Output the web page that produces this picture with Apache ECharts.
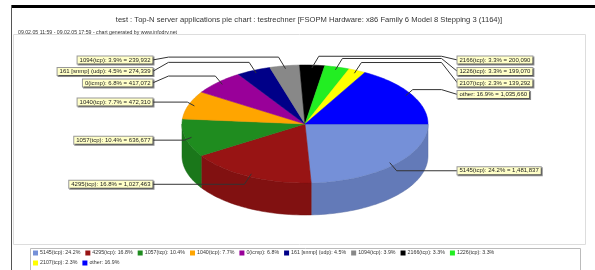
<!DOCTYPE html>
<html>
<head>
<meta charset="utf-8">
<script src="https://cdn.jsdelivr.net/npm/echarts@6/dist/echarts.min.js"></script>
<style>
  html, body { margin: 0; padding: 0; background: #fff; }
  #chart { width: 595px; height: 270px; }
</style>
</head>
<body>
<div id="chart"></div>
<script>
// traffic per server application
const names = ['5145(tcp)', '4295(tcp)', '1057(tcp)', '1040(tcp)', '0(icmp)', '161 [snmp] (udp)',
  '1094(tcp)', '2166(tcp)', '1226(tcp)', '2107(tcp)', 'other'];
const values = [1481837, 1027463, 636677, 472310, 417072, 274339, 239932, 200090, 199070, 139292, 1035660];
const colors = ['#7590d8', '#981414', '#1f8c1f', '#ffa500', '#990099', '#000088',
  '#888888', '#000000', '#22ee22', '#ffff00', '#0000ff'];

const titleText = 'test : Top-N server applications pie chart : testrechner [FSOPM Hardware: x86 Family 6 Model 8 Stepping 3 (1164)]';
const subText = '09.02.05 11:59 - 09.02.05 17:59 - chart generated by www.infodrv.net';

const total = values.reduce((a, b) => a + b, 0);
const pct = v => (v / total * 100).toFixed(1);
const fmt = v => v.toLocaleString('en-US');

// ellipse geometry of the 3d pie
const cx = 305, cy = 124, rx = 123, ry = 59, depth = 32;

const slices = [];
let acc = 0;
values.forEach((v, i) => {
  const a0 = acc / total * Math.PI * 2;
  acc += v;
  const a1 = acc / total * Math.PI * 2;
  const mid = (a0 + a1) / 2;
  slices.push({ i, a0, a1, mid, side: Math.cos(mid) >= 0 ? 1 : -1, natY: cy + ry * 1.15 * Math.sin(mid) });
});
[1, -1].forEach(side => {
  let prev = -Infinity;
  slices.filter(s => s.side === side).sort((a, b) => a.natY - b.natY).forEach(s => {
    s.labY = Math.max(s.natY, 60, prev + 11.5);
    prev = s.labY;
  });
});

function rim(a0, a1, dy) {
  const n = Math.max(2, Math.ceil((a1 - a0) / 0.03));
  const pts = [];
  for (let k = 0; k <= n; k++) {
    const a = a0 + (a1 - a0) * k / n;
    pts.push([cx + rx * Math.cos(a), cy + dy + ry * Math.sin(a)]);
  }
  return pts;
}

function darken(hex, f) {
  const c = echarts.color.parse(hex);
  return 'rgb(' + [0, 1, 2].map(j => Math.round(c[j] * f)).join(',') + ')';
}

function renderSlice(params, api) {
  const s = slices[params.dataIndex];
  const col = colors[s.i];
  const children = [];

  const b0 = Math.max(s.a0, 0), b1 = Math.min(s.a1, Math.PI);
  if (b1 > b0) {
    const pts = rim(b0, b1, 0).concat(rim(b0, b1, depth).reverse());
    children.push({ type: 'polygon', z2: 1, shape: { points: pts },
      style: { fill: darken(col, 0.85), stroke: darken(col, 0.75), lineWidth: 0.5 } });
  }
  children.push({ type: 'polygon', z2: 2, shape: { points: [[cx, cy]].concat(rim(s.a0, s.a1, 0)) },
    style: { fill: col, stroke: darken(col, 0.9), lineWidth: 0.5 } });

  // leader line + label box
  const ax = cx + rx * 0.95 * Math.cos(s.mid), ay = cy + ry * 0.95 * Math.sin(s.mid);
  const edge = s.side > 0 ? cx + rx * 1.24 : cx - rx * 1.24;
  const pts = [[ax, ay], [ax + s.side * 7, s.natY]];
  if (Math.abs(s.labY - s.natY) > 1) pts.push([edge - s.side * 16, s.natY]);
  pts.push([edge, s.labY]);
  children.push({ type: 'polyline', z2: 3, shape: { points: pts },
    style: { stroke: '#333', lineWidth: 1, fill: null } });
  children.push({ type: 'text', z2: 4, style: {
    text: names[s.i] + ': ' + pct(values[s.i]) + '% = ' + fmt(values[s.i]),
    x: edge, y: s.labY, align: s.side > 0 ? 'left' : 'right', verticalAlign: 'middle',
    font: '6px "Liberation Sans"', fill: '#222',
    backgroundColor: '#ffffc8', borderColor: '#999', borderWidth: 1, padding: [1, 2, 0, 2],
    shadowColor: 'rgba(0,0,0,0.45)', shadowOffsetX: 1, shadowOffsetY: 1, shadowBlur: 0
  } });
  return { type: 'group', children };
}

const chart = echarts.init(document.getElementById('chart'));
chart.setOption({
  animation: false,
  color: colors,
  title: [
    { text: titleText, left: 304, top: 11, textAlign: 'center',
      textStyle: { fontSize: 7.6, fontWeight: 'normal', color: '#333', fontFamily: 'Liberation Sans' } },
    { text: subText, left: 13, top: 25,
      textStyle: { fontSize: 5.2, fontWeight: 'normal', color: '#333', fontFamily: 'Liberation Sans' } }
  ],
  graphic: [
    { type: 'rect', shape: { x: 11, y: 5, width: 584, height: 3 }, style: { fill: '#000' } },
    { type: 'rect', shape: { x: 11, y: 5, width: 1, height: 265 }, style: { fill: '#555' } },
    { type: 'rect', shape: { x: 13.5, y: 34.5, width: 572, height: 210 },
      style: { fill: null, stroke: '#ddd', lineWidth: 1 } },
    { type: 'rect', shape: { x: 30.5, y: 248.5, width: 550, height: 30 },
      style: { fill: null, stroke: '#bbb', lineWidth: 1 } }
  ],
  legend: {
    left: 33, top: 250.5, width: 475, icon: 'rect', itemWidth: 5, itemHeight: 5, itemGap: 5,
    padding: 0, selectedMode: false,
    textStyle: { fontSize: 5.3, color: '#333', fontFamily: 'Liberation Sans', padding: [0, 0, 0, -3] },
    formatter: n => n + ': ' + pct(values[names.indexOf(n)]) + '%',
    data: names
  },
  series: [
    { type: 'custom', coordinateSystem: 'none', silent: true, renderItem: renderSlice,
      data: values.map((v, i) => [i, v]) },
    // empty pie only feeds the legend
    { type: 'pie', radius: [0, 0], center: [cx, cy], silent: true, label: { show: false },
      labelLine: { show: false }, data: names.map((n, i) => ({ name: n, value: values[i] })) }
  ]
});
</script>
</body>
</html>
